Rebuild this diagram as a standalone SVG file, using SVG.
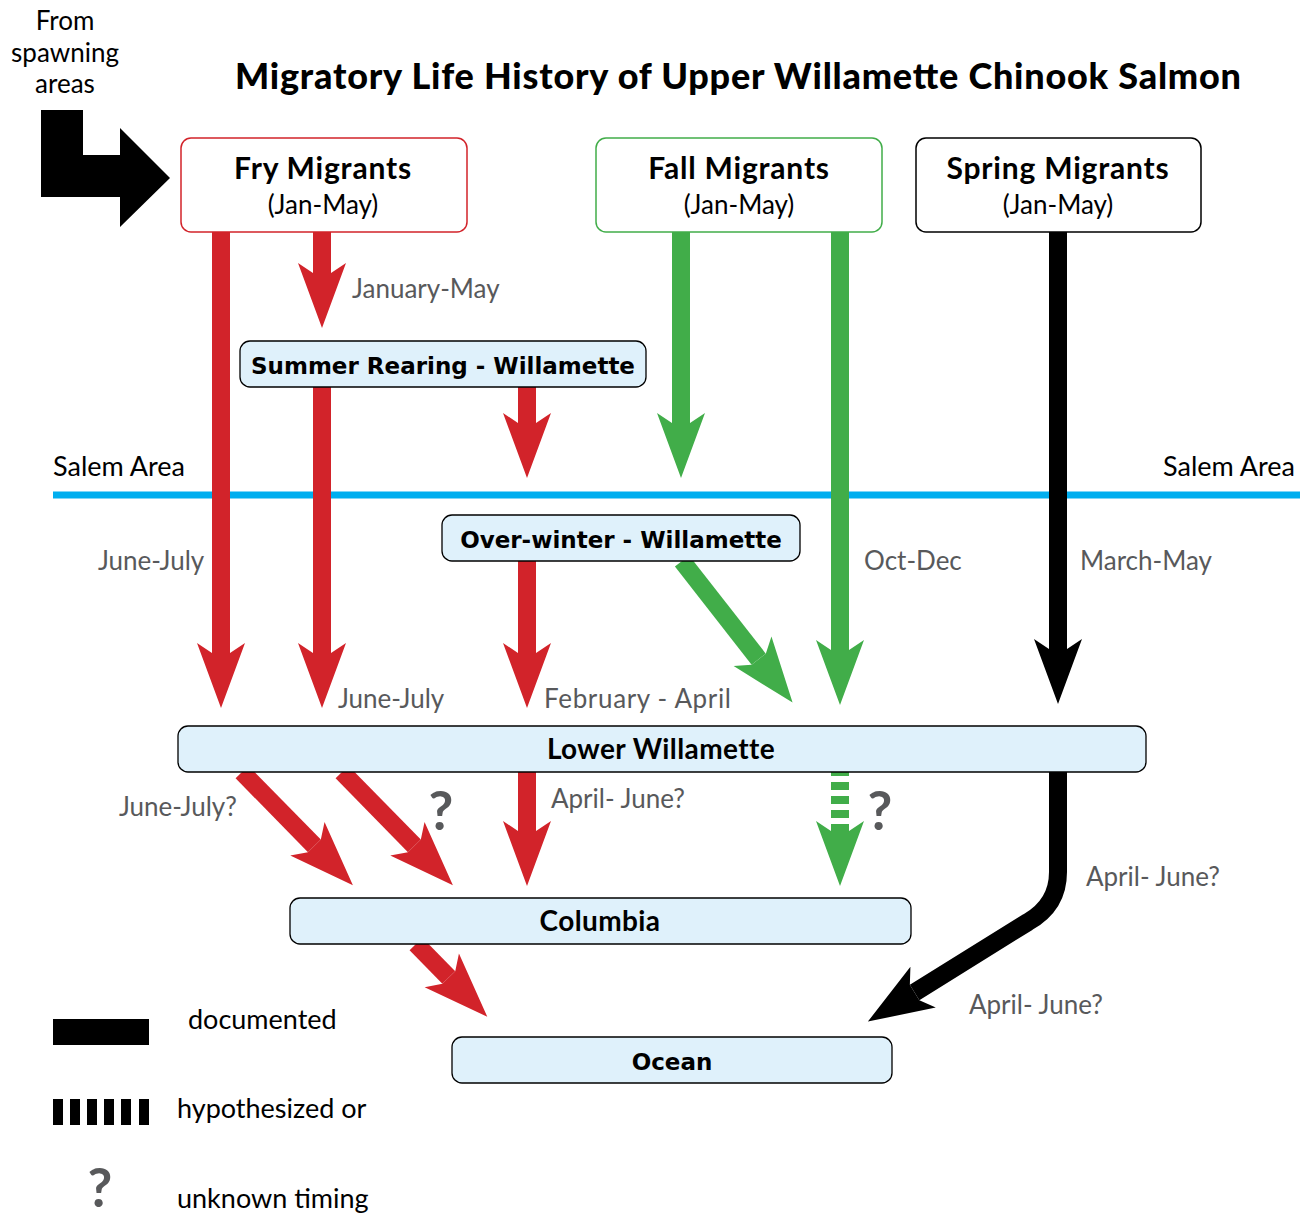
<svg xmlns="http://www.w3.org/2000/svg" width="1309" height="1217" viewBox="0 0 1309 1217">
<style>
.title{font-family:Lato,"Liberation Sans",sans-serif;font-weight:900;font-size:36px;fill:#000;text-anchor:middle}
.hd{font-family:Lato,"Liberation Sans",sans-serif;font-weight:700;font-size:30px;fill:#000;text-anchor:middle;letter-spacing:0.8px}
.sub{font-family:Lato,"Liberation Sans",sans-serif;font-size:26px;fill:#000;text-anchor:middle}
.bx{fill:#dff1fb;stroke:#000;stroke-width:1.3}
.bl{font-family:"DejaVu Sans","Liberation Sans",sans-serif;font-weight:700;font-size:23px;fill:#000;text-anchor:middle}
.bl2{font-family:Lato,"Liberation Sans",sans-serif;font-weight:700;font-size:28px;fill:#000;text-anchor:middle;letter-spacing:0.4px}
.lab{font-family:Lato,"Liberation Sans",sans-serif;font-size:26px;fill:#58595b}
.blk{font-family:Lato,"Liberation Sans",sans-serif;font-size:27px;fill:#000}
.q{font-family:Lato,"Liberation Sans",sans-serif;font-weight:700;font-size:54px;fill:#58595b;text-anchor:middle}
.r{fill:none;stroke:#d2232a;stroke-width:18}
.g{fill:none;stroke:#41ad49;stroke-width:18}
.k{fill:none;stroke:#000;stroke-width:18}
</style>
<defs>
<marker id="hr" markerUnits="userSpaceOnUse" markerWidth="66" markerHeight="48" refX="10" refY="24" orient="auto" overflow="visible"><path d="M0,0 L10,15 L10,33 L0,48 L65,24 Z" fill="#d2232a"/></marker>
<marker id="hg" markerUnits="userSpaceOnUse" markerWidth="66" markerHeight="48" refX="10" refY="24" orient="auto" overflow="visible"><path d="M0,0 L10,15 L10,33 L0,48 L65,24 Z" fill="#41ad49"/></marker>
<marker id="hk" markerUnits="userSpaceOnUse" markerWidth="66" markerHeight="48" refX="10" refY="24" orient="auto" overflow="visible"><path d="M0,0 L10,15 L10,33 L0,48 L65,24 Z" fill="#000"/></marker>
</defs>
<rect width="1309" height="1217" fill="#fff"/>

<text class="title" x="738" y="89" textLength="1006" lengthAdjust="spacing">Migratory Life History of Upper Willamette Chinook Salmon</text>

<g id="from-spawning">
<text class="sub" x="65" y="30">From</text>
<text class="sub" x="65" y="62">spawning</text>
<text class="sub" x="65" y="93">areas</text>
<polygon points="41,110 83,110 83,155 120,155 120,128 170,178 120,227 120,197 41,197" fill="#000"/>
</g>

<g id="salem">
<line x1="53" y1="495" x2="1300" y2="495" stroke="#00aeef" stroke-width="7"/>
<text class="blk" x="53" y="476">Salem Area</text>
<text class="blk" x="1295" y="476" text-anchor="end">Salem Area</text>
</g>

<g id="connectors">
<path class="r" d="M221,232 V653" marker-end="url(#hr)"/>
<path class="r" d="M322,232 V273" marker-end="url(#hr)"/>
<path class="r" d="M527,387 V423" marker-end="url(#hr)"/>
<path class="r" d="M322,387 V653" marker-end="url(#hr)"/>
<path class="r" d="M527,561 V653" marker-end="url(#hr)"/>
<path class="g" d="M681,232 V423" marker-end="url(#hg)"/>
<path class="g" d="M840,232 V650" marker-end="url(#hg)"/>
<path class="g" d="M682,561 L758.7,659.2" marker-end="url(#hg)"/>
<path class="k" d="M1058,232 V649" marker-end="url(#hk)"/>
<path class="r" d="M242,772 L314.4,845.9" marker-end="url(#hr)"/>
<path class="r" d="M342,772 L414.4,845.9" marker-end="url(#hr)"/>
<path class="r" d="M527,772 V831" marker-end="url(#hr)"/>
<path class="g" d="M840,772 V831" stroke-dasharray="8 6" stroke-dashoffset="4" marker-end="url(#hg)"/>
<path class="k" d="M1058,772 V872 Q1058,905 1028,922 L914.6,992.5" stroke-linejoin="round" marker-end="url(#hk)"/>
<path class="r" d="M416,944 L448.8,977.5" marker-end="url(#hr)"/>
</g>

<g id="labels">
<text class="lab" x="352" y="298">January-May</text>
<text class="lab" x="98" y="570">June-July</text>
<text class="lab" x="864" y="570">Oct-Dec</text>
<text class="lab" x="1080" y="570">March-May</text>
<text class="lab" x="338" y="708">June-July</text>
<text class="lab" x="544" y="708" textLength="187" lengthAdjust="spacing">February - April</text>
<text class="lab" x="119" y="816">June-July?</text>
<text class="lab" x="551" y="808">April- June?</text>
<text class="lab" x="1086" y="886">April- June?</text>
<text class="lab" x="969" y="1014">April- June?</text>
<text class="q" x="441" y="830">?</text>
<text class="q" x="880" y="830">?</text>
</g>

<g id="fry-migrants">
<rect x="181" y="138" width="286" height="94" rx="10" fill="#fff" stroke="#d2232a" stroke-width="1.5"/>
<text class="hd" x="323" y="179">Fry Migrants</text>
<text class="sub" x="323" y="214">(Jan-May)</text>
</g>
<g id="fall-migrants">
<rect x="596" y="138" width="286" height="94" rx="10" fill="#fff" stroke="#41ad49" stroke-width="1.5"/>
<text class="hd" x="739" y="179">Fall Migrants</text>
<text class="sub" x="739" y="214">(Jan-May)</text>
</g>
<g id="spring-migrants">
<rect x="916" y="138" width="285" height="94" rx="10" fill="#fff" stroke="#000" stroke-width="1.5"/>
<text class="hd" x="1058" y="179">Spring Migrants</text>
<text class="sub" x="1058" y="214">(Jan-May)</text>
</g>
<g id="summer-rearing">
<rect class="bx" x="240" y="341" width="406" height="46" rx="10"/>
<text class="bl" x="443" y="374">Summer Rearing - Willamette</text>
</g>
<g id="over-winter">
<rect class="bx" x="442" y="515" width="358" height="46" rx="10"/>
<text class="bl" x="621" y="548">Over-winter - Willamette</text>
</g>
<g id="lower-willamette">
<rect class="bx" x="178" y="726" width="968" height="46" rx="10"/>
<text class="bl2" x="661" y="759">Lower Willamette</text>
</g>
<g id="columbia">
<rect class="bx" x="290" y="898" width="621" height="46" rx="10"/>
<text class="bl2" x="600" y="931">Columbia</text>
</g>
<g id="ocean">
<rect class="bx" x="452" y="1037" width="440" height="46" rx="10"/>
<text class="bl" x="672" y="1070">Ocean</text>
</g>

<g id="legend">
<rect x="53" y="1019" width="96" height="26" fill="#000"/>
<text class="blk" x="188" y="1029">documented</text>
<g fill="#000">
<rect x="53" y="1099" width="10" height="26"/>
<rect x="70" y="1099" width="10" height="26"/>
<rect x="87" y="1099" width="10" height="26"/>
<rect x="104" y="1099" width="10" height="26"/>
<rect x="121" y="1099" width="10" height="26"/>
<rect x="139" y="1099" width="10" height="26"/>
</g>
<text class="blk" x="177" y="1118">hypothesized or</text>
<text class="q" x="100" y="1207">?</text>
<text class="blk" x="177" y="1208">unknown timing</text>
</g>
</svg>
